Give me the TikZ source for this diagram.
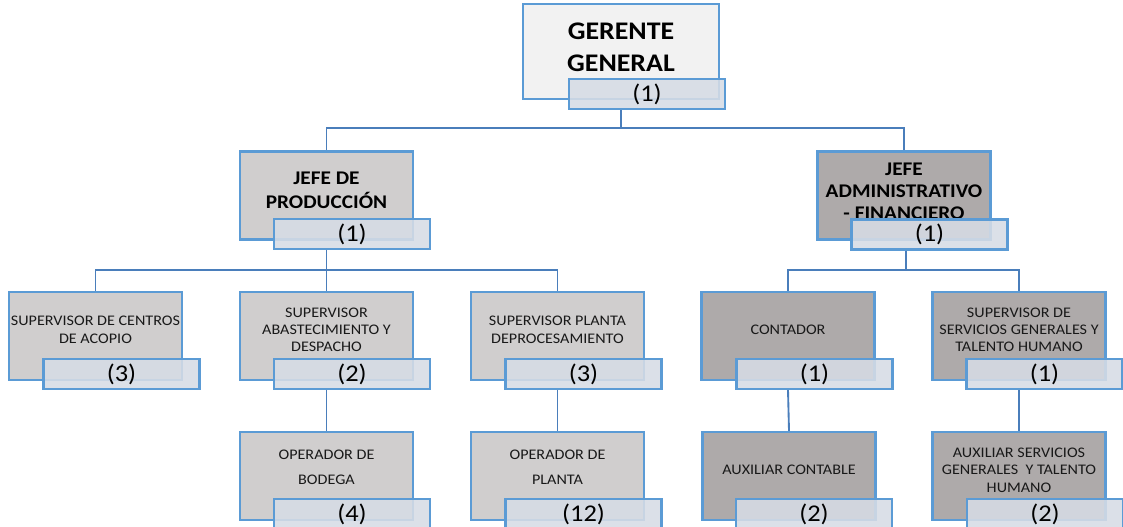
\documentclass[tikz,border=0pt]{standalone}
\usepackage{fontspec}
\usepackage{graphicx}
\setmainfont{Carlito}
\newcommand\pxu{0.75pt}
\newcommand\ctxt[2][3.75pt]{\raisebox{#1}[\height][\depth]{\scalebox{1.1}[1]{\begin{tabular}{@{}c@{}}#2\end{tabular}}}}
\newcommand\cnt[1]{\scalebox{1.1}[1]{(#1)}}
\definecolor{borde}{HTML}{5B9BD5}
\definecolor{linea}{HTML}{4A7EBB}
\definecolor{grisclaro}{HTML}{D0CECE}
\definecolor{grisosc}{HTML}{AEAAAA}
\definecolor{blanco}{HTML}{F2F2F2}
\definecolor{cuenta}{HTML}{D6DCE5}
\tikzset{
  cargo/.style={draw=borde,line width=1.6pt,fill=grisclaro,
    minimum width=173*\pxu,minimum height=88*\pxu,inner sep=0pt,
    text=black!90,font=\fontsize{11}{13}\selectfont},
  cargoadm/.style={cargo,fill=grisosc},
  jefe/.style={cargo,text=black,font=\bfseries\fontsize{14.5}{18}\selectfont},
  num/.style={draw=borde,line width=1.6pt,fill=cuenta,fill opacity=0.88,
    text opacity=1,minimum width=156*\pxu,minimum height=30*\pxu,inner sep=0pt,
    font=\fontsize{18}{20}\selectfont},
  conn/.style={draw=linea,line width=1.4pt}
}
\begin{document}
\begin{tikzpicture}[x=0.75pt,y=-0.75pt]
\useasboundingbox (0,0) rectangle (1123,526);
\node[jefe,fill=blanco,minimum width=196*\pxu,minimum height=95*\pxu,
  font=\bfseries\fontsize{19}{24}\selectfont] (ger) at (621,51.5) {\ctxt[1.5pt]{GERENTE\\GENERAL}};
\node[jefe] (jprod) at (326.5,195.5) {\ctxt[2.5pt]{JEFE DE\\PRODUCCIÓN}};
\node[jefe,fill=grisosc,font=\bfseries\fontsize{14.5}{16.5}\selectfont] (jadm) at (904,195.5) {\ctxt[2pt]{JEFE\\ADMINISTRATIVO\\- FINANCIERO}};
\node[cargo] (supc) at (95.5,336) {\ctxt{SUPERVISOR DE CENTROS\\DE ACOPIO}};
\node[cargo] (supa) at (326.5,336) {\ctxt{SUPERVISOR\\ABASTECIMIENTO Y\\DESPACHO}};
\node[cargo] (supp) at (557.5,336) {\ctxt{SUPERVISOR PLANTA\\DEPROCESAMIENTO}};
\node[cargoadm] (cont) at (788,336) {\ctxt[4pt]{CONTADOR}};
\node[cargoadm] (sups) at (1019,336) {\ctxt{SUPERVISOR DE\\SERVICIOS GENERALES Y\\TALENTO HUMANO}};
\node[cargo,font=\fontsize{11}{19}\selectfont] (opb) at (326.5,476) {\ctxt[7pt]{OPERADOR DE\\BODEGA}};
\node[cargo,font=\fontsize{11}{19}\selectfont] (opp) at (557.5,476) {\ctxt[7pt]{OPERADOR DE\\PLANTA}};
\node[cargoadm] (auxc) at (789,476) {\ctxt[3.4pt]{AUXILIAR CONTABLE}};
\node[cargoadm] (auxs) at (1019,476) {\ctxt[3.4pt]{AUXILIAR SERVICIOS\\GENERALES~ Y TALENTO\\HUMANO}};
\node[num] (gerc) at (647,94) {\cnt{1}};
\node[num] (jprodc) at (352,234) {\cnt{1}};
\node[num] (jadmc) at (929.5,234.5) {\cnt{1}};
\node[num] (supcc) at (121.5,374) {\cnt{3}};
\node[num] (supac) at (352,374) {\cnt{2}};
\node[num] (suppc) at (583.5,374) {\cnt{3}};
\node[num] (contc) at (814.5,374) {\cnt{1}};
\node[num] (supsc) at (1044.5,374) {\cnt{1}};
\node[num] (opbc) at (352,514) {\cnt{4}};
\node[num] (oppc) at (583.5,514) {\cnt{12}};
\node[num] (auxcc) at (814,514) {\cnt{2}};
\node[num] (auxsc) at (1045,514) {\cnt{2}};
\coordinate (b0) at (621,128);
\coordinate (b1) at (326.5,270);
\coordinate (b2) at (906,270);
\draw[conn] (ger.south |- gerc.south) -- (b0);
\foreach \n in {jprod,jadm}{\draw[conn] (b0) -| (\n.north);}
\draw[conn] (jprod.south |- jprodc.south) -- (b1);
\foreach \n in {supc,supa,supp}{\draw[conn] (b1) -| (\n.north);}
\draw[conn] (b2 |- jadmc.south) -- (b2);
\foreach \n in {cont,sups}{\draw[conn] (b2) -| (\n.north);}
\foreach \a/\b in {supa/opb,supp/opp,cont/auxc,sups/auxs}{\draw[conn] (\a.south |- \a c.south) -- (\b.north);}
\end{tikzpicture}
\end{document}
